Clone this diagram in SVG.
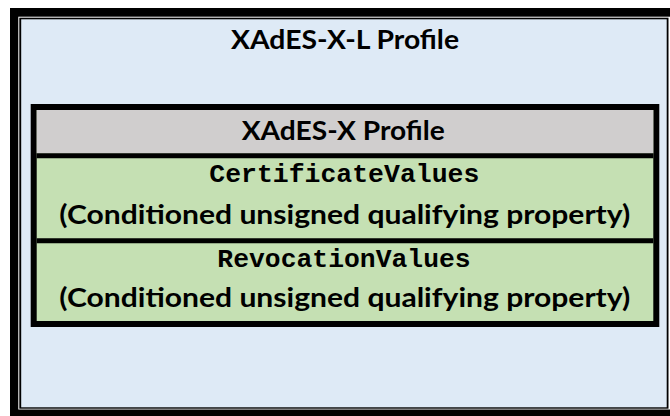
<svg xmlns="http://www.w3.org/2000/svg" width="670" height="416" viewBox="0 0 670 416">
  <style>
    .title { font-family: Lato, "Open Sans", "Liberation Sans", sans-serif; font-weight: bold; font-size: 26px; fill: #000; }
    .mono { font-family: "Liberation Mono", "Courier New", monospace; font-weight: bold; font-size: 25px; fill: #000; }
    .sep { stroke: #000; stroke-width: 5; }
  </style>
  <rect x="0" y="0" width="670" height="416" fill="#ffffff"/>
  <g id="xades-x-l-profile">
    <rect x="10" y="8" width="670" height="420" fill="#000"/>
    <rect x="18.3" y="16.7" width="652.2" height="392.8" fill="#fff"/>
    <rect x="19.3" y="17.7" width="649.2" height="391" fill="#000"/>
    <rect x="21.2" y="19.3" width="645.5" height="388" fill="#DEEAF6"/>
    <text class="title" x="231" y="48.5" textLength="228" lengthAdjust="spacingAndGlyphs">XAdES-X-L Profile</text>
  </g>
  <g id="xades-x-profile">
    <rect x="33.7" y="107" width="622.6" height="217" fill="#C5E0B3" stroke="#000" stroke-width="6"/>
    <rect x="36.7" y="110" width="616.6" height="43.3" fill="#D0CECE"/>
    <text class="title" x="241.7" y="139.5" textLength="203" lengthAdjust="spacingAndGlyphs">XAdES-X Profile</text>
  </g>
  <g id="certificate-values">
    <line class="sep" x1="36.7" y1="155.8" x2="653.3" y2="155.8"/>
    <text class="mono" x="209.3" y="182" textLength="270" lengthAdjust="spacingAndGlyphs">CertificateValues</text>
    <text class="title" x="59.3" y="223.5" textLength="571" lengthAdjust="spacingAndGlyphs">(Conditioned unsigned qualifying property)</text>
  </g>
  <g id="revocation-values">
    <line class="sep" x1="36.7" y1="240.8" x2="653.3" y2="240.8"/>
    <text class="mono" x="217.3" y="266.7" textLength="253.4" lengthAdjust="spacingAndGlyphs">RevocationValues</text>
    <text class="title" x="59.3" y="306.7" textLength="571" lengthAdjust="spacingAndGlyphs">(Conditioned unsigned qualifying property)</text>
  </g>
  <g id="connectors"/>
</svg>
